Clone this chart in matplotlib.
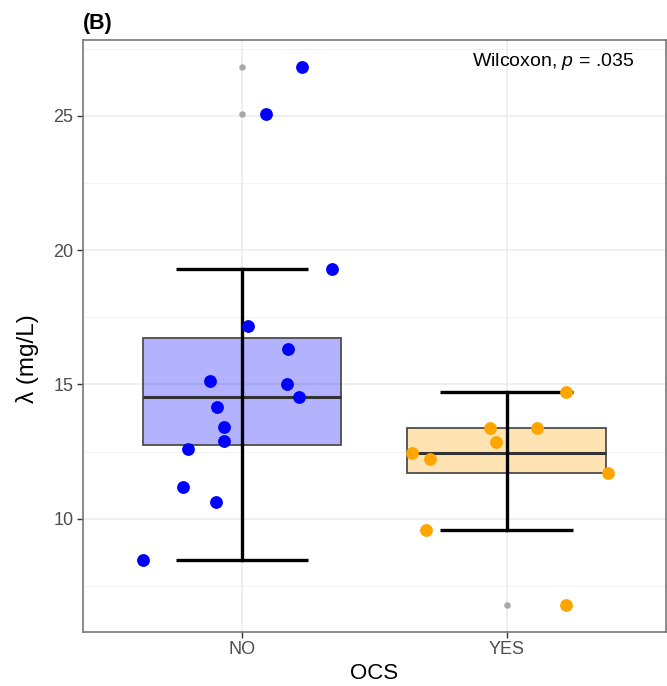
import numpy as np
import matplotlib.pyplot as plt
from matplotlib import cbook

plt.rcParams['font.family'] = ['Liberation Sans', 'DejaVu Sans']
plt.rcParams['mathtext.fontset'] = 'custom'
plt.rcParams['mathtext.rm'] = 'Liberation Sans'
plt.rcParams['mathtext.it'] = 'Liberation Sans:italic'

# data
groups = ["NO", "YES"]
no_vals = [8.48, 10.64, 11.18, 12.60, 12.91, 13.43, 14.15, 14.54, 15.01,
           15.12, 16.31, 17.18, 19.31, 25.08, 26.82]
no_jitter = [-0.374, -0.098, -0.224, -0.205, -0.069, -0.069, -0.094, 0.216,
             0.169, -0.119, 0.173, 0.025, 0.341, 0.091, 0.227]
yes_vals = [6.80, 9.59, 11.70, 12.23, 12.44, 12.87, 13.37, 13.37, 14.73]
yes_jitter = [0.223, -0.305, 0.383, -0.289, -0.356, -0.041, -0.063, 0.113, 0.226]
colors = ["#0000FF", "#FFA500"]

fig = plt.figure(figsize=(6.67, 6.86), dpi=100)
ax = fig.add_axes([83/667, 1 - 631.7/686, 582.5/667, 591.7/686])

# grid
for v in [7.5, 12.5, 17.5, 22.5, 27.5]:
    ax.axhline(v, color="#F0F0F0", lw=0.6, zorder=0)
for v in [10, 15, 20, 25]:
    ax.axhline(v, color="#EBEBEB", lw=1.1, zorder=0)
for v in [1, 2]:
    ax.axvline(v, color="#EBEBEB", lw=1.1, zorder=0)

for i, (vals, jit, col) in enumerate(zip([no_vals, yes_vals],
                                         [no_jitter, yes_jitter], colors)):
    pos = i + 1
    st = cbook.boxplot_stats(np.array(vals), whis=1.5)[0]
    # box
    ax.add_patch(plt.Rectangle((pos - 0.375, st['q1']), 0.75, st['q3'] - st['q1'],
                               facecolor=col, alpha=0.3, edgecolor='none', zorder=2))
    ax.add_patch(plt.Rectangle((pos - 0.375, st['q1']), 0.75, st['q3'] - st['q1'],
                               facecolor='none', edgecolor="#4D4D4D", lw=1.3, zorder=2.1))
    ax.plot([pos - 0.375, pos + 0.375], [st['med'], st['med']],
            color="#333333", lw=2.2, zorder=2.2, solid_capstyle='butt')
    # error bar whiskers
    ax.plot([pos, pos], [st['whislo'], st['whishi']], color='black', lw=2.4, zorder=3)
    for w in [st['whislo'], st['whishi']]:
        ax.plot([pos - 0.25, pos + 0.25], [w, w], color='black', lw=2.4, zorder=3,
                solid_capstyle='butt')
    # outliers
    fl = st['fliers']
    ax.scatter(np.full(len(fl), pos), fl, s=22, color="#A9A9A9", zorder=3.5,
               linewidths=0)
    # jittered points
    ax.scatter(pos + np.array(jit), vals, s=85, color=col, zorder=4, linewidths=0)

ax.set_xlim(0.4, 2.6)
ax.set_ylim(5.8, 27.82)
ax.set_xticks([1, 2])
ax.set_xticklabels(groups)
ax.set_yticks([10, 15, 20, 25])
ax.tick_params(colors="#333333", labelcolor="#4D4D4D", labelsize=13,
               length=4, width=1.0, pad=3)
for s in ax.spines.values():
    s.set_color("#777777")
    s.set_linewidth(1.2)

ax.set_xlabel("OCS", fontsize=16, labelpad=3)
ax.set_ylabel("λ (mg/L)", fontsize=17.5)
ax.yaxis.set_label_coords(-0.075, 0.461)

fig.text(83/667, 1 - 29/686, "(B)", fontsize=15.5, fontweight='bold',
         ha='left', va='baseline')
fig.text(634/667, 1 - 65.7/686, "Wilcoxon, $p$ = .035", fontsize=14,
         ha='right', va='baseline')

fig.savefig("out.png", dpi=100)
